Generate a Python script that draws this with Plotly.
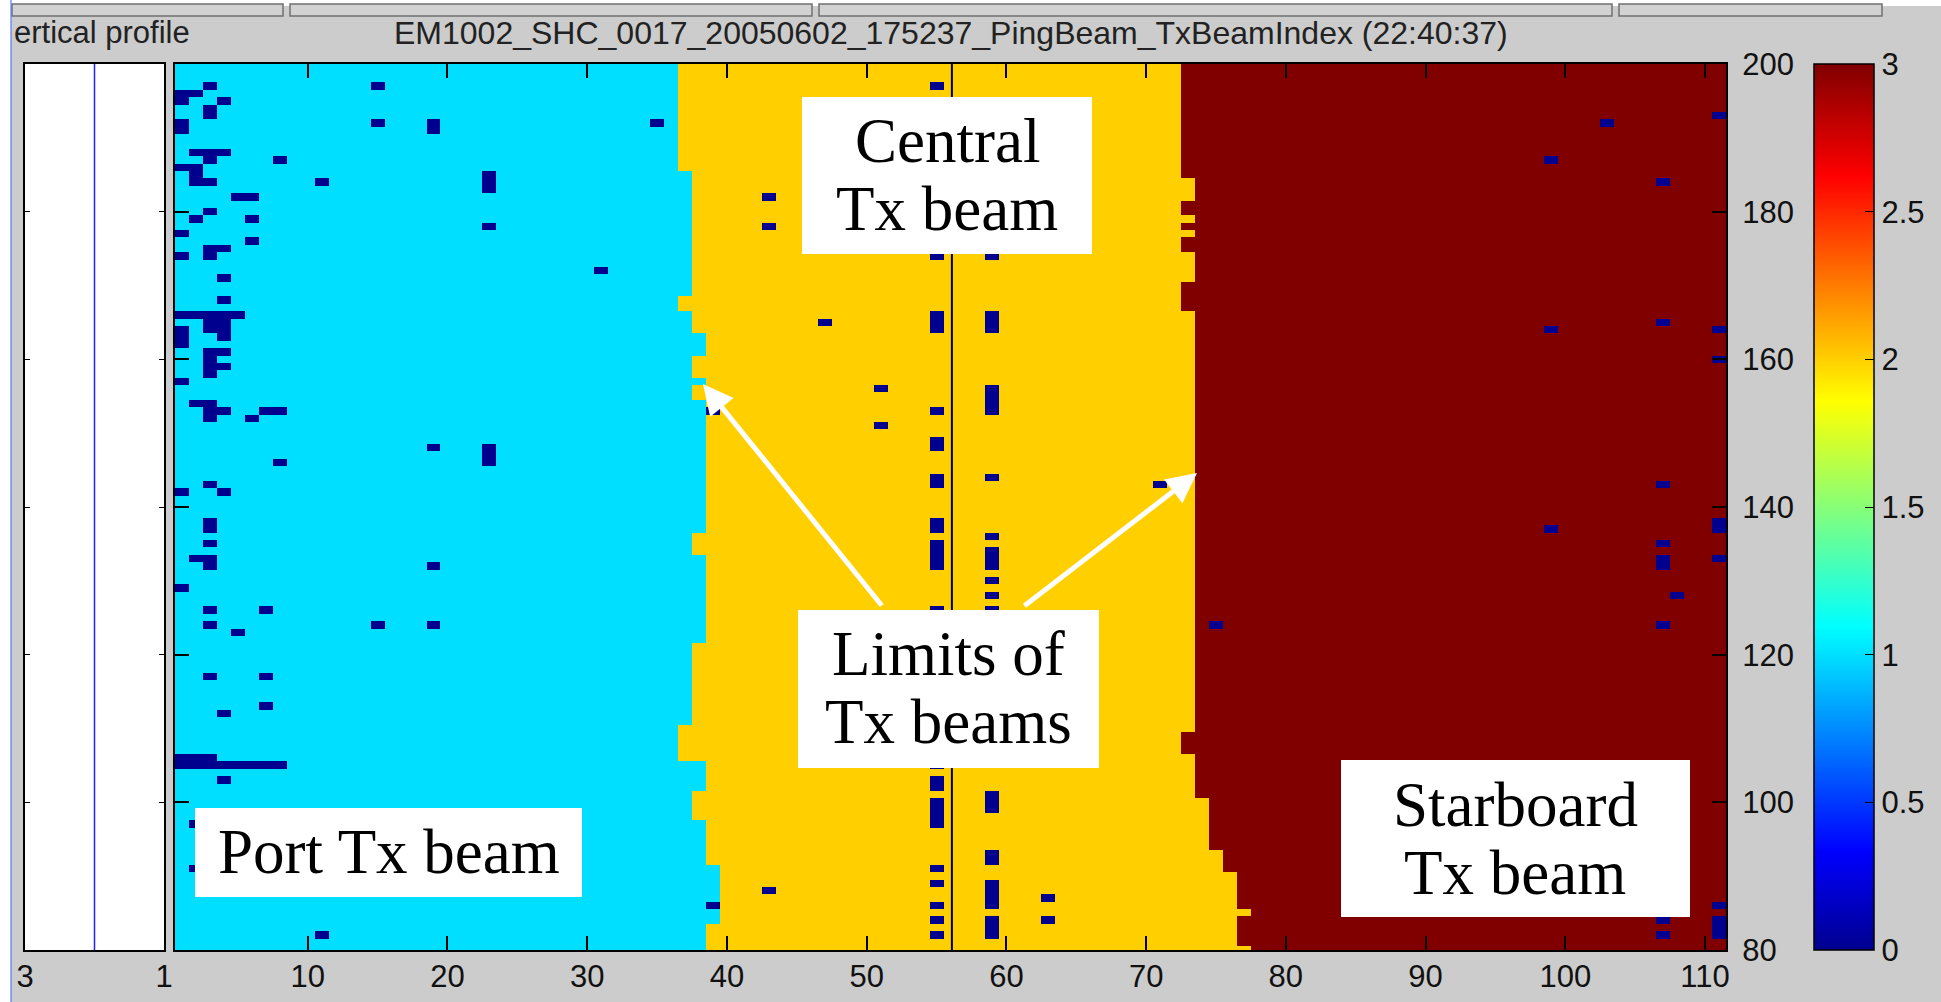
import numpy as np
import plotly.graph_objects as go

W, H = 1941, 1002

# ---------------- data ----------------
pings = list(range(200, 79, -1))          # ping numbers, top row first
beams = list(range(1, 112))               # beam numbers 1..111

# last beam of the port Tx beam (value 1) for each ping, top (200) to bottom (80)
port_limit = [
    36, 36, 36, 36, 36, 36, 36, 36, 36, 36,
    36, 36, 36, 36, 36, 37, 37, 37, 37, 37,
    37, 37, 37, 37, 37, 37, 37, 37, 37, 37,
    37, 37, 36, 36, 37, 37, 37, 38, 38, 38,
    37, 37, 37, 38, 37, 37, 38, 38, 38, 38,
    38, 38, 38, 38, 38, 38, 38, 38, 38, 38,
    38, 38, 38, 38, 37, 37, 37, 38, 38, 38,
    38, 38, 38, 38, 38, 38, 38, 38, 38, 37,
    37, 37, 37, 37, 37, 37, 37, 37, 37, 37,
    36, 36, 36, 36, 36, 38, 38, 38, 38, 37,
    37, 37, 37, 38, 38, 38, 38, 38, 38, 39,
    39, 39, 39, 39, 39, 39, 39, 38, 38, 38,
    38,
]
# last beam of the central Tx beam (value 2) for each ping, top to bottom
stbd_limit = [
    72, 72, 72, 72, 72, 72, 72, 72, 72, 72,
    72, 72, 72, 72, 72, 72, 73, 73, 73, 72,
    72, 73, 72, 73, 72, 72, 73, 73, 73, 73,
    72, 72, 72, 72, 73, 73, 73, 73, 73, 73,
    73, 73, 73, 73, 73, 73, 73, 73, 73, 73,
    73, 73, 73, 73, 73, 73, 73, 73, 73, 73,
    73, 73, 73, 73, 73, 73, 73, 73, 73, 73,
    73, 73, 73, 73, 73, 73, 73, 73, 73, 73,
    73, 73, 73, 73, 73, 73, 73, 73, 73, 73,
    73, 72, 72, 72, 73, 73, 73, 73, 73, 73,
    74, 74, 74, 74, 74, 74, 74, 75, 75, 75,
    76, 76, 76, 76, 76, 77, 76, 76, 76, 76,
    77,
]
# cells with no Tx beam index (value 0)
drop_ping = [
    197, 196, 196, 195, 195, 194, 193, 192, 191,
    197, 192, 192, 191, 192,
    188, 188, 188, 187, 187, 186, 186, 185, 184, 184, 184,
    185, 184, 183, 182, 182, 180, 179, 179, 178, 177, 176,
    175, 175, 174, 174, 172, 171, 168,
    166, 166, 166, 166, 166, 165, 165, 164, 164, 164, 163, 163, 162,
    161, 161, 160, 159, 159, 158, 157,
    154, 154, 153, 153, 153, 153, 152, 152,
    148, 148, 147, 146, 146, 143, 142, 142,
    138, 137, 135, 133, 133, 132, 132, 129, 126, 126,
    124, 124, 124, 123, 117, 117, 113, 112,
    106, 106, 106, 105, 105, 105, 105, 105, 105, 105, 105, 103, 97, 91, 82,
    153, 86, 124, 143,
    197, 182, 178, 174, 174, 165,
    166, 165, 164, 166, 165, 164,
    156, 151, 156, 155, 154, 153, 153,
    149, 148, 144, 143, 144,
    138, 137, 135, 134, 133, 132,
    136, 134, 133, 132, 130, 128, 126, 126,
    105, 103, 102, 100, 99, 98, 97,
    101, 100, 99, 93, 92,
    91, 89, 88, 89, 88, 87, 86,
    87, 84, 86, 84, 82, 84, 83, 82,
    193, 192, 187, 184, 164, 165, 164, 160,
    143, 137, 138, 137, 133, 135, 133, 132,
    128, 124, 84, 82, 86, 84, 83, 82,
]
drop_beam = [
    3, 1, 2, 1, 4, 3, 3, 1, 1,
    15, 15, 19, 19, 35,
    2, 3, 4, 3, 8, 1, 2, 2, 2, 3, 11,
    23, 23, 23, 5, 6, 3, 2, 6, 23, 1, 6,
    3, 4, 1, 3, 31, 4, 4,
    1, 2, 3, 4, 5, 3, 4, 1, 3, 4, 1, 4, 1,
    3, 4, 3, 3, 4, 3, 1,
    2, 3, 3, 4, 7, 8, 3, 6,
    19, 23, 23, 23, 8, 3, 1, 4,
    3, 3, 3, 2, 3, 3, 19, 1, 3, 7,
    3, 15, 19, 5, 3, 7, 7, 4,
    1, 2, 3, 1, 2, 3, 4, 5, 6, 7, 8, 4, 2, 2, 11,
    39, 39, 75, 71,
    55, 43, 43, 55, 59, 47,
    55, 55, 55, 59, 59, 59,
    51, 51, 59, 59, 59, 59, 55,
    55, 55, 55, 55, 59,
    55, 55, 55, 55, 55, 55,
    59, 59, 59, 59, 59, 59, 59, 55,
    55, 55, 55, 55, 55, 55, 55,
    59, 59, 59, 59, 59,
    55, 55, 43, 59, 59, 59, 59,
    63, 63, 55, 55, 55, 59, 59, 59,
    111, 103, 99, 107, 99, 107, 111, 111,
    107, 99, 111, 111, 111, 107, 107, 107,
    108, 107, 107, 107, 111, 111, 111, 111,
]

x_ticks = [10, 20, 30, 40, 50, 60, 70, 80, 90, 100, 110]
y_ticks = [80, 100, 120, 140, 160, 180, 200]
cbar_ticks = [0, 0.5, 1, 1.5, 2, 2.5, 3]
cbar_labels = ["0", "0.5", "1", "1.5", "2", "2.5", "3"]
left_ticks = [3, 1]
left_labels = ["3", "1"]
nadir_beam = 56.1
profile_x = 2

# ---------------- build grid ----------------
Z = np.zeros((len(pings), len(beams)))
for i, p in enumerate(pings):
    for j, b in enumerate(beams):
        if b <= port_limit[i]:
            Z[i, j] = 1
        elif b <= stbd_limit[i]:
            Z[i, j] = 2
        else:
            Z[i, j] = 3
for p, b in zip(drop_ping, drop_beam):
    Z[pings.index(p), beams.index(b)] = 0

jet = [
    [0.0, "rgb(0,0,143)"],
    [7 / 63, "rgb(0,0,255)"],
    [23 / 63, "rgb(0,255,255)"],
    [39 / 63, "rgb(255,255,0)"],
    [55 / 63, "rgb(255,0,0)"],
    [1.0, "rgb(128,0,0)"],
]

SANS = "Liberation Sans, Arial, sans-serif"
SERIF = "Liberation Serif, Times New Roman, serif"
TICKFONT = dict(family=SANS, size=31, color="#111111")

CB_X0, CB_X1, CB_TOP, CB_BOT = 1814, 1874, 64, 950


def px(x):
    return x / W


def py(y):
    return 1 - y / H


fig = go.Figure()

fig.add_trace(go.Heatmap(
    x=beams, y=pings, z=Z, colorscale=jet, zmin=0, zmax=3,
    xaxis="x", yaxis="y", hoverinfo="skip",
    colorbar=dict(
        x=px(CB_X0), xanchor="left", y=py((CB_TOP + CB_BOT) / 2), yanchor="middle",
        len=CB_BOT - CB_TOP, lenmode="pixels", thickness=CB_X1 - CB_X0,
        thicknessmode="pixels",
        xpad=0, ypad=0, outlinewidth=1.5, outlinecolor="black",
        tickvals=cbar_ticks, ticktext=cbar_labels, ticks="inside",
        ticklen=9, tickwidth=1.2, tickcolor="black", tickfont=TICKFONT,
    ),
))

fig.add_trace(go.Scatter(
    x=[nadir_beam, nadir_beam], y=[80, 200], mode="lines",
    line=dict(color="black", width=2), xaxis="x", yaxis="y",
    hoverinfo="skip", showlegend=False,
))

fig.add_trace(go.Scatter(
    x=[profile_x, profile_x], y=[80, 200], mode="lines",
    line=dict(color="#2020ff", width=1.5), xaxis="x2", yaxis="y2",
    hoverinfo="skip", showlegend=False,
))

ydom = [py(950), py(64)]
axis_common = dict(showgrid=False, zeroline=False, showline=True,
                   linecolor="black", linewidth=2, tickcolor="black",
                   tickfont=TICKFONT, automargin=False)

fig.update_layout(
    width=W, height=H, autosize=False,
    margin=dict(l=0, r=0, t=0, b=0, pad=0, autoexpand=False),
    paper_bgcolor="#cccccc", plot_bgcolor="white",
    showlegend=False,
    xaxis=dict(domain=[px(175), px(1726)], range=[0.5, 111.5], anchor="y",
               tickvals=x_ticks, ticks="inside", ticklen=14, tickwidth=1.5,
               mirror="ticks", ticklabelstandoff=-2, **axis_common),
    yaxis=dict(domain=ydom, range=[80, 200], anchor="x", side="right",
               tickvals=y_ticks, ticks="inside", ticklen=14, tickwidth=1.5,
               mirror="ticks", ticklabelstandoff=8, **axis_common),
    xaxis2=dict(domain=[px(25), px(164)], range=[3, 1], anchor="y2",
                tickvals=left_ticks, ticktext=left_labels, ticks="",
                mirror=True, ticklabelstandoff=-2, **axis_common),
    yaxis2=dict(domain=ydom, range=[80, 200], anchor="x2",
                tickvals=y_ticks, ticks="inside", ticklen=5, tickwidth=1.2,
                mirror="ticks", showticklabels=False, **axis_common),
)

shapes = []
# window chrome: white edge, blue border line, top toolbar strip
shapes.append(dict(type="rect", xref="paper", yref="paper", x0=0, x1=px(11),
                   y0=0, y1=1, fillcolor="white", line_width=0, layer="below"))
shapes.append(dict(type="rect", xref="paper", yref="paper", x0=0, x1=1,
                   y0=py(6), y1=1, fillcolor="white", line_width=0, layer="below"))
for a, b in [(12, 283), (290, 812), (819, 1612), (1619, 1882)]:
    shapes.append(dict(type="rect", xref="paper", yref="paper", x0=px(a), x1=px(b),
                       y0=py(16), y1=py(4), fillcolor="#d2d2d2",
                       line=dict(color="#707070", width=1.5), layer="below"))
shapes.append(dict(type="line", xref="paper", yref="paper", x0=px(11), x1=px(11),
                   y0=0, y1=1, line=dict(color="#5a78ff", width=1.2), layer="below"))

# colorbar ticks on its left edge (mirrored, inward)
for v in cbar_ticks[1:-1]:
    yy = CB_BOT - v / 3 * (CB_BOT - CB_TOP)
    shapes.append(dict(type="line", xref="paper", yref="paper",
                       x0=px(CB_X0), x1=px(CB_X0 + 9), y0=py(yy), y1=py(yy),
                       line=dict(color="black", width=1.2), layer="above"))

# white label boxes
for x0, x1, y0, y1 in [(802, 1092, 97, 254), (798, 1099, 610, 768),
                       (195, 582, 808, 897), (1341, 1690, 760, 917)]:
    shapes.append(dict(type="rect", xref="paper", yref="paper",
                       x0=px(x0), x1=px(x1), y0=py(y1), y1=py(y0),
                       fillcolor="white", line_width=0, layer="above"))
fig.update_layout(shapes=shapes)

ann = []
ann.append(dict(text="EM1002_SHC_0017_20050602_175237_PingBeam_TxBeamIndex (22:40:37)",
                x=px(951), y=py(33), xref="paper", yref="paper",
                xanchor="center", yanchor="middle", showarrow=False,
                font=dict(family=SANS, size=32, color="#222222")))
ann.append(dict(text="ertical profile", x=px(12), y=py(33), xref="paper", yref="paper",
                xanchor="left", yanchor="middle", showarrow=False,
                font=dict(family=SANS, size=31, color="#222222")))

for txt, xc, yc in [("Central", 947, 141), ("Tx beam", 947, 209),
                    ("Limits of", 948, 654), ("Tx beams", 948, 722),
                    ("Port Tx beam", 389, 852),
                    ("Starboard", 1515, 805), ("Tx beam", 1515, 873)]:
    ann.append(dict(text=txt, x=px(xc), y=py(yc), xref="paper", yref="paper",
                    xanchor="center", yanchor="middle", showarrow=False,
                    font=dict(family=SERIF, size=63, color="black")))

# arrows pointing at the beam limits
for tipx, tipy, tailx, taily in [(703, 384, 883, 607), (1197, 473, 1023, 607)]:
    ann.append(dict(text="", x=px(tipx), y=py(tipy), xref="paper", yref="paper",
                    ax=tailx - tipx, ay=taily - tipy, axref="pixel", ayref="pixel",
                    showarrow=True, arrowhead=2, arrowsize=1.2, arrowwidth=5,
                    arrowcolor="white", standoff=0))
fig.update_layout(annotations=ann)

fig.write_html("out.html")
